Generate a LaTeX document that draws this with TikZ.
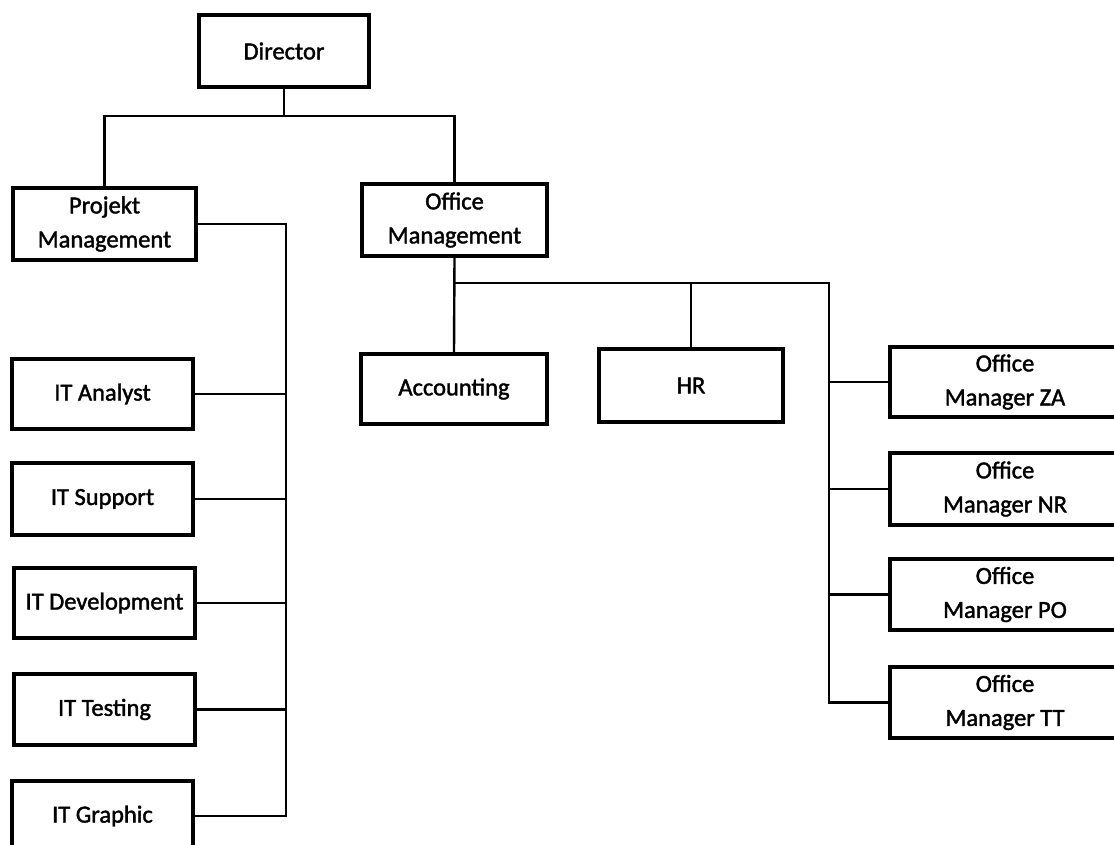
\documentclass[tikz,border=0pt]{standalone}
\usepackage{fontspec}
\setmainfont{Carlito}[FakeBold=1.6]
\begin{document}
\begin{tikzpicture}[x=1pt,y=-1pt,
  box/.style={draw=black, line width=3.4pt, minimum width=#1, inner sep=0pt, align=center,
    font=\fontsize{24.5}{34}\selectfont},
  box/.default=182pt,
  link/.style={draw=black, line width=2.4pt}]
\clip (0,0) rectangle (1114,845);
\fill[white] (0,0) rectangle (1114,845);
% nodes
\node[box=170pt, minimum height=72pt] (dir) at (284,51) {Director};
\node[box=183pt, minimum height=72pt] (pm) at (104.5,224) {Projekt\\Management};
\node[box=185pt, minimum height=72pt] (om) at (454.5,220) {Office\\Management};
\node[box=186pt, minimum height=70pt] (acc) at (454,389) {Accounting};
\node[box=184pt, minimum height=73pt] (hr) at (691,385.5) {HR};
\node[box=230pt, minimum height=70pt] (za) at (1005,382) {Office\\Manager ZA};
\node[box=230pt, minimum height=72pt] (nr) at (1005,489) {Office\\Manager NR};
\node[box=230pt, minimum height=71pt] (po) at (1005,594.5) {Office\\Manager PO};
\node[box=230pt, minimum height=71pt] (tt) at (1005,702.5) {Office\\Manager TT};
\node[box=181pt, minimum height=70pt] (ita) at (102.5,394) {IT Analyst};
\node[box=181pt, minimum height=72pt] (its) at (102.5,499) {IT Support};
\node[box=181pt, minimum height=70pt] (itd) at (104.5,603) {IT Development};
\node[box=181pt, minimum height=71pt] (itt) at (104.5,709.5) {IT Testing};
\node[box=181pt, minimum height=70pt] (itg) at (102.5,816) {IT Graphic};
% helper coordinates
\coordinate (bus) at (0,116);
\coordinate (pmv) at (286,0);
\coordinate (bus2) at (0,283);
\coordinate (omv) at (829,0);
% director to the two managements
\draw[link] (dir.south) -- (dir.south |- bus);
\draw[link] (pm.north) -- (pm.north |- bus) -- (om.north |- bus) -- (om.north);
% projekt management branch
\draw[link] (pm.east) -- (pmv |- pm.east) -- (pmv |- itg.east) -- (itg.east);
\draw[link] (ita.east) -- (pmv |- ita.east);
\draw[link] (its.east) -- (pmv |- its.east);
\draw[link] (itd.east) -- (pmv |- itd.east);
\draw[link] (itt.east) -- (pmv |- itt.east);
% office management branch
\draw[link] (om.south) -- (acc.north);
\draw[link] (om.south |- bus2) -- (omv |- bus2) -- (omv |- tt.west) -- (tt.west);
\draw[link] (hr.north) -- (hr.north |- bus2);
\draw[link] (za.west) -- (omv |- za.west);
\draw[link] (nr.west) -- (omv |- nr.west);
\draw[link] (po.west) -- (omv |- po.west);
\end{tikzpicture}
\end{document}
